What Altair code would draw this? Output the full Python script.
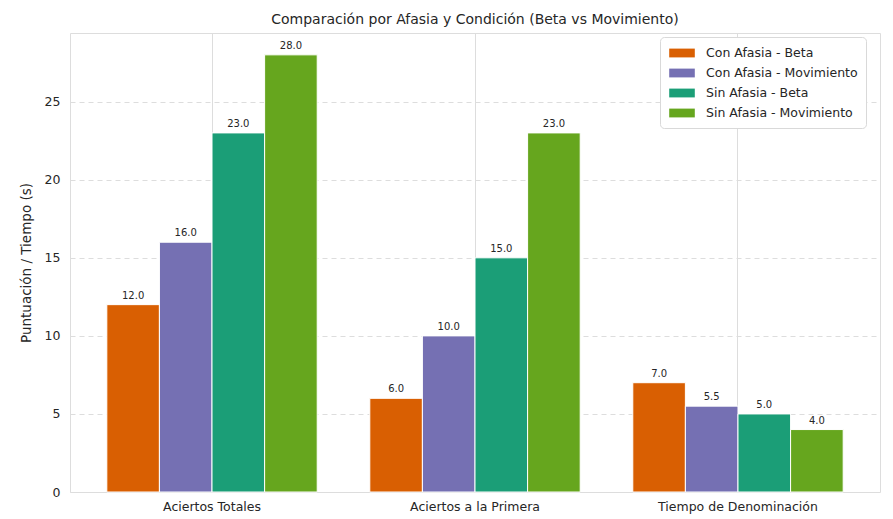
import altair as alt
import pandas as pd

categories = ["Aciertos Totales", "Aciertos a la Primera", "Tiempo de Denominación"]
series = ["Con Afasia - Beta", "Con Afasia - Movimiento", "Sin Afasia - Beta", "Sin Afasia - Movimiento"]
values = {
    "Con Afasia - Beta": [12.0, 6.0, 7.0],
    "Con Afasia - Movimiento": [16.0, 10.0, 5.5],
    "Sin Afasia - Beta": [23.0, 15.0, 5.0],
    "Sin Afasia - Movimiento": [28.0, 23.0, 4.0],
}
colors = ["#d95f02", "#7570b3", "#1b9e77", "#66a61e"]
y_ticks = [0, 5, 10, 15, 20, 25]

rows = []
for s in series:
    for c, v in zip(categories, values[s]):
        rows.append({"Categoria": c, "Serie": s, "Valor": v})
df = pd.DataFrame(rows)

FONT = "DejaVu Sans"
x = alt.X("Categoria:N", sort=categories, title=None,
          scale=alt.Scale(paddingInner=0.2, paddingOuter=0.14),
          axis=alt.Axis(labelAngle=0, ticks=False, domain=False, grid=True,
                        bandPosition=0.5, gridColor="#dddddd", gridWidth=1,
                        labelFontSize=12.5, labelColor="#262626", labelPadding=8,
                        labelFont=FONT))
y = alt.Y("Valor:Q", title="Puntuación / Tiempo (s)",
          scale=alt.Scale(domain=[0, 29.4], nice=False),
          axis=alt.Axis(values=y_ticks, ticks=False, domain=False, grid=True,
                        gridDash=[5, 4], gridColor="#dddddd", gridWidth=1,
                        labelFontSize=12.5, labelColor="#262626", labelPadding=10,
                        titleFontSize=13.5, titleFontWeight="normal", titleColor="#262626",
                        titlePadding=11, labelFont=FONT, titleFont=FONT))
xo = alt.XOffset("Serie:N", sort=series)

rect_path = "M-1.6,-0.55L1.6,-0.55L1.6,0.55L-1.6,0.55Z"
bars = alt.Chart(df).mark_bar(stroke="white", strokeWidth=1).encode(
    x=x, y=y, xOffset=xo,
    color=alt.Color("Serie:N", sort=series,
                    scale=alt.Scale(domain=series, range=colors),
                    legend=alt.Legend(title=None, orient="none", legendX=590, legendY=4,
                                      symbolType=rect_path, symbolSize=256,
                                      symbolStrokeWidth=0, labelFontSize=12.5,
                                      labelFont=FONT, labelColor="#262626",
                                      rowPadding=5, padding=8, fillColor="white",
                                      strokeColor="#d9d9d9", cornerRadius=4,
                                      symbolOffset=6, labelOffset=16)),
)
labels = alt.Chart(df).mark_text(dy=-9, fontSize=10, font=FONT, color="#262626").encode(
    x=x, y=y, xOffset=xo, text=alt.Text("Valor:Q", format=".1f"),
)

chart = (bars + labels).properties(
    width=810, height=459,
    title=alt.TitleParams("Comparación por Afasia y Condición (Beta vs Movimiento)",
                          fontSize=14, fontWeight="normal", font=FONT, color="#262626",
                          offset=6),
    autosize=alt.AutoSizeParams(type="none"),
    padding={"left": 62, "top": 25, "right": 5, "bottom": 30},
).configure_view(stroke="#cccccc", strokeWidth=1).configure(background="white")

chart.save("out.html", embed_options={"renderer": "svg", "actions": False})
